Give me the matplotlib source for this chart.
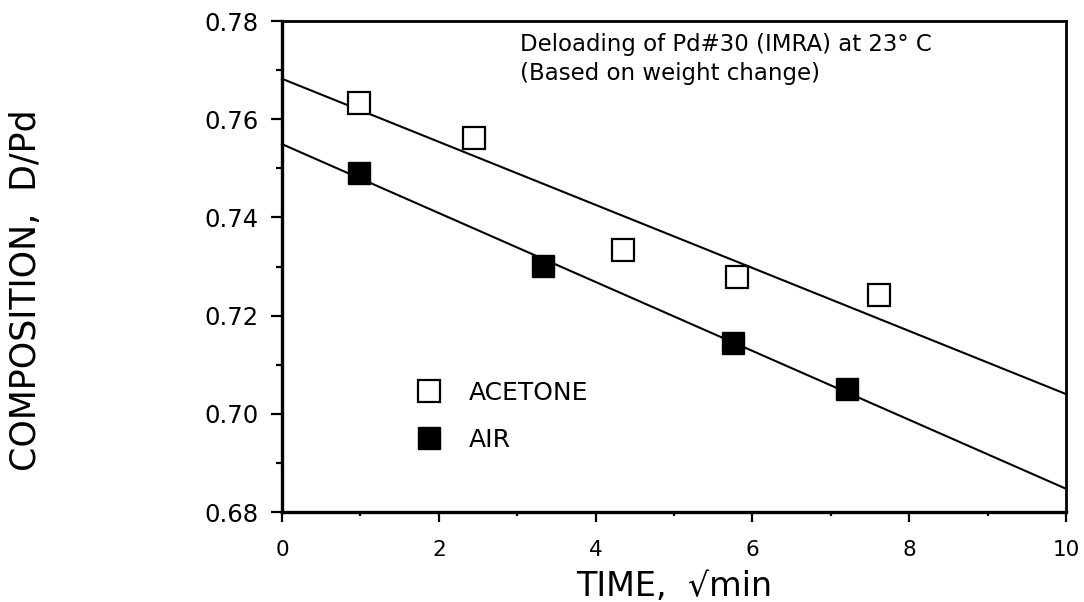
import numpy as np
import matplotlib
matplotlib.use("Agg")
import matplotlib.pyplot as plt
from matplotlib.ticker import MultipleLocator
from matplotlib.lines import Line2D

# Data
acetone_x = [0.98, 2.45, 4.35, 5.81, 7.62]
acetone_y = [0.7633, 0.7562, 0.7334, 0.7279, 0.7242]
air_x = [0.98, 3.33, 5.75, 7.21]
air_y = [0.7490, 0.7301, 0.7144, 0.7050]

x_ticks = [0, 2, 4, 6, 8, 10]
y_ticks = [0.68, 0.70, 0.72, 0.74, 0.76, 0.78]
y_tick_labels = ["0.68", "0.70", "0.72", "0.74", "0.76", "0.78"]

plt.rcParams['font.family'] = ['DejaVu Sans']

fig = plt.figure(figsize=(10.84, 6.02), dpi=100)
ax = fig.add_axes([0.2601, 0.1495, 0.7233, 0.8156])

# linear fits
xx = np.array([0, 10])
for xs, ys in [(acetone_x, acetone_y), (air_x, air_y)]:
    m, b = np.polyfit(xs, ys, 1)
    ax.plot(xx, m * xx + b, color='black', lw=1.5, zorder=2, clip_on=False)

ax.plot(acetone_x, acetone_y, ls='none', marker='s', ms=15.5, mfc='white',
        mec='black', mew=1.6, zorder=3)
ax.plot(air_x, air_y, ls='none', marker='s', ms=16.5, mfc='black',
        mec='black', mew=1.0, zorder=3)

ax.set_xlim(0, 10)
ax.set_ylim(0.68, 0.78)
ax.set_xticks(x_ticks)
ax.set_xticklabels([str(t) for t in x_ticks])
ax.set_yticks(y_ticks)
ax.set_yticklabels(y_tick_labels)
ax.xaxis.set_minor_locator(MultipleLocator(1))
ax.yaxis.set_minor_locator(MultipleLocator(0.01))

ax.tick_params(axis='both', which='both', direction='out', top=False, right=False)
ax.tick_params(axis='x', which='major', length=7.5, width=1.6, labelsize=15.5, pad=13)
ax.tick_params(axis='x', which='minor', length=3.2, width=1.6)
ax.tick_params(axis='y', which='major', length=8, width=1.6, labelsize=17.5, pad=9)
ax.tick_params(axis='y', which='minor', length=4.5, width=1.6)

for side in ['left', 'bottom']:
    ax.spines[side].set_linewidth(2.4)
for side in ['top', 'right']:
    ax.spines[side].set_linewidth(2.0)

ax.set_xlabel("TIME,  \u221Amin", fontsize=24, labelpad=7)
ax.set_ylabel("COMPOSITION,  D/Pd", fontsize=25)
ax.yaxis.set_label_coords(-0.305, 0.452)

ax.text(0.3036, 0.975, "Deloading of Pd#30 (IMRA) at 23\u00b0 C\n(Based on weight change)",
        transform=ax.transAxes, fontsize=16.5, va='top', ha='left', linespacing=1.31)

handles = [
    Line2D([], [], ls='none', marker='s', ms=15.5, mfc='white', mec='black', mew=1.6),
    Line2D([], [], ls='none', marker='s', ms=16.5, mfc='black', mec='black', mew=1.0),
]
leg = ax.legend(handles, ["ACETONE", "AIR"], loc='upper left',
                bbox_to_anchor=(0.156, 0.267), frameon=False, fontsize=18,
                handletextpad=0.6, labelspacing=0.92, borderpad=0, borderaxespad=0)

fig.savefig("out.png", dpi=100)
